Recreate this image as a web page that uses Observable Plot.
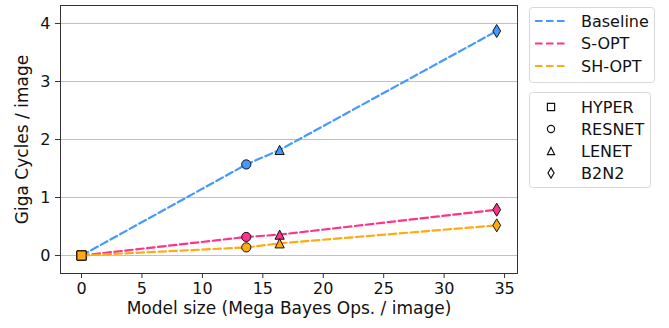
<!DOCTYPE html>
<html>
<head>
<meta charset="utf-8">
<script src="https://cdn.jsdelivr.net/npm/d3@7"></script>
<script src="https://cdn.jsdelivr.net/npm/@observablehq/plot@0.6"></script>
<style>
  html, body { margin: 0; padding: 0; background: #fff; }
  #wrap { position: relative; width: 669px; height: 328px; font-family: "DejaVu Sans", sans-serif; }
  #wrap > svg { position: absolute; left: 0; top: 0; }
</style>
</head>
<body>
<div id="wrap"></div>
<script>
// ---- data ----
const models = ["HYPER", "RESNET", "LENET", "B2N2"];
const modelSize = [0, 13.63, 16.39, 34.35];          // Mega Bayes Ops / image
const seriesNames = ["Baseline", "S-OPT", "SH-OPT"];
const seriesColors = ["#4499ff", "#ff3388", "#ffaa11"];
const baseline = [0, 1.57, 1.82, 3.87];              // Giga cycles / image
const sOpt = [0, 0.32, 0.36, 0.79];
const shOpt = [0, 0.14, 0.21, 0.52];
const xTicks = [0, 5, 10, 15, 20, 25, 30, 35];
const yTicks = [0, 1, 2, 3, 4];
const xLabel = "Model size (Mega Bayes Ops. / image)";
const yLabel = "Giga Cycles / image";

const seriesValues = [baseline, sOpt, shOpt];
const rows = [];
seriesNames.forEach((s, i) => models.forEach((m, j) =>
  rows.push({series: s, model: m, x: modelSize[j], y: seriesValues[i][j]})));

// matplotlib-like marker symbols (size = pi r^2)
const rOf = size => Math.sqrt(size / Math.PI);
const symSquare = {draw(c, size) { const r = rOf(size); c.rect(-r, -r, 2 * r, 2 * r); }};
const symTri = {draw(c, size) { const r = rOf(size); c.moveTo(0, -r); c.lineTo(r, r); c.lineTo(-r, r); c.closePath(); }};
const symDiamond = {draw(c, size) { const r = rOf(size); const h = 1.414 * r, w = 0.6 * h;
  c.moveTo(0, -h); c.lineTo(w, 0); c.lineTo(0, h); c.lineTo(-w, 0); c.closePath(); }};
const symCircle = {draw(c, size) { const r = rOf(size); c.moveTo(r, 0); c.arc(0, 0, r, 0, 2 * Math.PI); }};
const modelSymbols = [symSquare, symCircle, symTri, symDiamond];

const marks = [
  Plot.gridY(yTicks, {stroke: "#b0b0b0", strokeOpacity: 0.8, strokeWidth: 1}),
];
seriesNames.forEach((s, i) => {
  const d = rows.filter(r => r.series === s);
  marks.push(Plot.line(d, {x: "x", y: "y", stroke: seriesColors[i], strokeWidth: 2.2, strokeDasharray: "7.5,3.5"}));
  models.forEach((m, j) => {
    marks.push(Plot.dot(d.filter(r => r.model === m), {
      x: "x", y: "y", symbol: modelSymbols[j], r: 4.6,
      fill: seriesColors[i], fillOpacity: 1, stroke: "#111", strokeWidth: 1
    }));
  });
});
marks.push(
  Plot.frame({stroke: "#333", strokeWidth: 1}),
  Plot.axisX(xTicks, {tickSize: 5, tickPadding: 4, fontSize: 16, label: null, stroke: "#333", tickFormat: d3.format("d")}),
  Plot.axisY(yTicks, {tickSize: 5, tickPadding: 5, fontSize: 16, label: null, stroke: "#333", tickFormat: d3.format("d")}),
  Plot.text([xLabel], {frameAnchor: "bottom", dy: 40, fontSize: 17, fill: "#111", textAnchor: "middle"}),
  Plot.text([yLabel], {frameAnchor: "left", dx: -38, rotate: -90, fontSize: 17, fill: "#111", textAnchor: "middle"})
);

const chart = Plot.plot({
  width: 669, height: 328,
  marginLeft: 60, marginRight: 152, marginTop: 5, marginBottom: 55,
  style: {fontFamily: "DejaVu Sans, sans-serif", fontSize: "16px", color: "#111", background: "#fff"},
  x: {domain: [-1.74, 36.07]},
  y: {domain: [-0.31, 4.31]},
  marks
});
const wrap = document.getElementById("wrap");
wrap.appendChild(chart);

// ---- legends (overlay svg) ----
const leg = d3.select(wrap).append("svg").attr("width", 669).attr("height", 328)
  .style("font-family", "DejaVu Sans, sans-serif").style("font-size", "16px");
leg.append("rect").attr("x", 529.5).attr("y", 7.5).attr("width", 125).attr("height", 75)
  .attr("rx", 3).attr("fill", "#fff").attr("stroke", "#d8d8d8");
const ly1 = [21, 43.5, 66];
seriesNames.forEach((s, i) => {
  leg.append("line").attr("x1", 535).attr("x2", 568).attr("y1", ly1[i]).attr("y2", ly1[i])
    .attr("stroke", seriesColors[i]).attr("stroke-width", 2.2).attr("stroke-dasharray", "7.5,3.5");
  leg.append("text").attr("x", 581).attr("y", ly1[i]).attr("dy", "0.35em").attr("fill", "#111").text(s);
});
leg.append("rect").attr("x", 529.5).attr("y", 92.5).attr("width", 121).attr("height", 95)
  .attr("rx", 3).attr("fill", "#fff").attr("stroke", "#d8d8d8");
const ly2 = [107, 129, 151, 173];
models.forEach((m, j) => {
  leg.append("path").attr("transform", `translate(551,${ly2[j]})`)
    .attr("d", d3.symbol(modelSymbols[j], Math.PI * 3.6 * 3.6)())
    .attr("fill", "#fff").attr("stroke", "#111").attr("stroke-width", 1.2);
  leg.append("text").attr("x", 581).attr("y", ly2[j]).attr("dy", "0.35em").attr("fill", "#111").text(m);
});
</script>
</body>
</html>
